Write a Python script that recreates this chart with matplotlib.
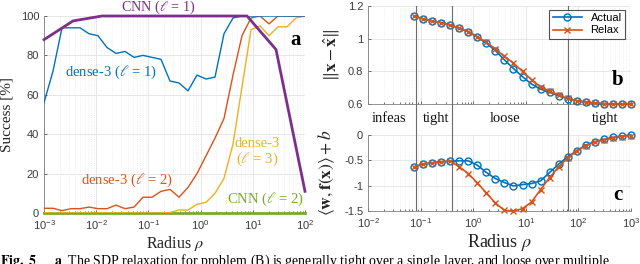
import numpy as np
import matplotlib
matplotlib.use("Agg")
import matplotlib.pyplot as plt
from matplotlib.ticker import LogLocator, NullFormatter

plt.rcParams['font.family'] = ['Liberation Sans', 'DejaVu Sans']
plt.rcParams['axes.unicode_minus'] = False

# ---------------- data: panel a ----------------
rho_fine = np.logspace(-3, 2, 30)      # dense-3 sweeps
rho_coarse = np.logspace(-3, 2, 10)    # CNN sweeps
dense1 = [56, 72, 94, 94, 94, 91, 90, 84, 81, 82, 79, 80, 79, 78, 67,
          66, 62, 70, 68, 69, 91, 99, 100, 100, 100, 100, 100, 100, 100, 100]
dense2 = [2.4, 2.4, 1.2, 2.2, 2.2, 3, 2.2, 2.2, 4, 2.2, 3, 8, 8, 11, 12,
          8, 13, 20, 29, 38, 48, 70, 90, 99, 100, 96, 100, 100, 100, 100]
dense3 = [0, 0, 0, 0, 0, 0, 0, 0, 0, 0, 0, 0, 0, 0, 0.3,
          1.5, 1.5, 4.4, 5.4, 10, 17.6, 35, 64, 93, 95, 90, 94.5, 94.5, 99, 100]
cnn1 = [88, 97.5, 100, 100, 100, 100, 100, 100, 83, 11]
cnn2 = [0, 0, 0, 0, 0, 0, 0, 0, 0, 0]

# ---------------- data: panels b, c ----------------
rho_bc = np.geomspace(0.075, 1000, 25)
dist_actual = [1.139, 1.121, 1.108, 1.098, 1.084, 1.064, 1.043, 1.009, 0.972, 0.927,
               0.870, 0.817, 0.767, 0.722, 0.691, 0.671, 0.651, 0.632, 0.620, 0.612,
               0.606, 0.602, 0.600, 0.600, 0.600]
dist_relax = [1.139, 1.121, 1.108, 1.098, 1.084, 1.064, 1.043, 1.012, 0.977, 0.937,
              0.891, 0.850, 0.800, 0.748, 0.704, 0.678, 0.655, 0.634, 0.621, 0.612,
              0.606, 0.602, 0.600, 0.600, 0.600]
obj_actual = [-0.628, -0.575, -0.549, -0.529, -0.515, -0.509, -0.509, -0.595, -0.740, -0.859,
              -0.938, -1.005, -0.978, -0.958, -0.905, -0.740, -0.575, -0.430, -0.311, -0.198,
              -0.132, -0.086, -0.046, -0.020, 0.0]
obj_relax = [-0.628, -0.575, -0.549, -0.529, -0.515, -0.628, -0.760, -0.945, -1.143, -1.342,
             -1.487, -1.500, -1.454, -1.322, -1.077, -0.839, -0.628, -0.450, -0.320, -0.210,
             -0.140, -0.100, -0.060, -0.030, -0.010]
region_bounds = [0.08, 0.4, 63]
region_names = ["infeas", "tight", "loose", "tight"]
region_pos = [0.025, 0.2, 4.1, 316]

BLUE = '#0072BD'
ORANGE = '#D95319'
YELLOW = '#EDB120'
PURPLE = '#7E2F8E'
GREEN = '#77AC30'
TICKC = '#3a3a3a'
SERIF = ['Liberation Serif', 'DejaVu Serif']

W, H = 640, 264
fig = plt.figure(figsize=(6.4, 2.64), dpi=100)

def box(l, t, r, b):
    return [l / W, (H - b) / H, (r - l) / W, (b - t) / H]

def style(ax):
    ax.set_xscale('log')
    ax.tick_params(which='both', direction='in', colors=TICKC, labelsize=8,
                   labelcolor=TICKC, width=0.5)
    ax.tick_params(which='major', length=2.5)
    ax.tick_params(which='minor', length=1.5)
    ax.xaxis.set_major_locator(LogLocator(base=10, numticks=20))
    ax.xaxis.set_minor_locator(LogLocator(base=10, subs=np.arange(2, 10), numticks=20))
    ax.xaxis.set_minor_formatter(NullFormatter())
    ax.grid(True, which='major', color='#e3e3e3', lw=0.6)
    ax.grid(True, which='minor', axis='x', color='#e6e6e6', lw=0.5, ls=':')
    ax.set_axisbelow(True)
    for s in ['top', 'right']:
        ax.spines[s].set_visible(False)
    for s in ['left', 'bottom']:
        ax.spines[s].set_color('#808080')
        ax.spines[s].set_linewidth(0.6)

# ---------------- panel a ----------------
ax = fig.add_axes(box(44, 16, 305, 213))
style(ax)
ax.plot(rho_coarse, cnn2, color=GREEN, lw=2.0, clip_on=False, zorder=3)
ax.plot(rho_fine, dense3, color=YELLOW, lw=1.0, zorder=4)
ax.plot(rho_fine, dense2, color=ORANGE, lw=1.0, zorder=5)
ax.plot(rho_fine, dense1, color=BLUE, lw=1.0, zorder=6)
ax.plot(rho_coarse, cnn1, color=PURPLE, lw=2.0, clip_on=False, zorder=7)
ax.set_xlim(1e-3, 1e2)
ax.set_ylim(0, 100)
ax.set_yticks([0, 20, 40, 60, 80, 100])
ax.set_xlabel(r'Radius $\rho$', family=SERIF, fontsize=11.5, color='#222222',
              math_fontfamily='stix', labelpad=2)
ax.set_ylabel('Success [%]', family=SERIF, fontsize=11, color='#222222')
ax.yaxis.set_label_coords(-0.115, 0.5)
tkw = dict(family=SERIF, fontsize=10.5, ha='center', va='center', math_fontfamily='stix')
ax.text(0.153, 104.2, r'CNN ($\ell$ = 1)', color=PURPLE, clip_on=False,
        **dict(tkw, fontsize=10.2))
ax.text(0.0192, 71.6, r'dense-3 ($\ell$ = 1)', color=BLUE, **tkw)
ax.text(0.039, 16.8, r'dense-3 ($\ell$ = 2)', color=ORANGE, **tkw)
ax.text(12, 35.5, 'dense-3', color=YELLOW, **tkw)
ax.text(12, 27, r'($\ell$ = 3)', color=YELLOW, **tkw)
ax.text(17.8, 7.1, r'CNN ($\ell$ = 2)', color=GREEN, **tkw)
ax.text(67, 88, 'a', family=SERIF, fontsize=15, fontweight='bold', ha='center', va='center')

# ---------------- panel b ----------------
axb = fig.add_axes(box(368, 6, 631, 104))
style(axb)
axb.plot(rho_bc, dist_actual, color=BLUE, lw=1.2, marker='o', ms=5, mfc='none',
         mew=1.0, label='Actual', clip_on=False, zorder=4)
axb.plot(rho_bc, dist_relax, color=ORANGE, lw=1.2, marker='x', ms=4, mew=1.0,
         label='Relax', clip_on=False, zorder=5)
axb.set_xlim(1e-2, 1e3)
axb.set_ylim(0.6, 1.2)
axb.set_yticks([0.6, 0.8, 1.0, 1.2])
axb.set_yticklabels(['0.6', '0.8', '1', '1.2'])
axb.xaxis.set_major_formatter(NullFormatter())
axb.set_ylabel(r'$\|\mathbf{x}-\hat{\mathbf{x}}\|$', fontsize=12.5, math_fontfamily='stix',
               color='#222222')
axb.yaxis.set_label_coords(-0.10, 0.5)
leg = axb.legend(loc='upper right', bbox_to_anchor=(0.977, 0.96), fontsize=8,
                 frameon=True, fancybox=False, edgecolor='#262626', borderpad=0.3,
                 handlelength=2.6, labelspacing=0.2, borderaxespad=0)
leg.get_frame().set_linewidth(0.8)
axb.text(562, 0.747, 'b', family=SERIF, fontsize=15, fontweight='bold', ha='center', va='center')
for v in region_bounds:
    axb.axvline(v, color='#6b6b6b', lw=0.8, zorder=2)

# ---------------- band ----------------
axm = fig.add_axes(box(368, 104, 631, 135))
axm.set_xscale('log')
axm.set_xlim(1e-2, 1e3)
axm.set_ylim(0, 1)
axm.axis('off')
for v in region_bounds:
    axm.axvline(v, color='#6b6b6b', lw=0.8)
for name, xp in zip(region_names, region_pos):
    axm.text(xp, 0.52, name, family=SERIF, fontsize=10.5, ha='center', va='center',
             color='#111111')

# ---------------- panel c ----------------
axc = fig.add_axes(box(368, 135, 631, 211))
style(axc)
axc.plot(rho_bc, obj_actual, color=BLUE, lw=1.2, marker='o', ms=5, mfc='none',
         mew=1.0, clip_on=False, zorder=4)
axc.plot(rho_bc, obj_relax, color=ORANGE, lw=1.2, marker='x', ms=4, mew=1.0,
         clip_on=False, zorder=5)
axc.set_xlim(1e-2, 1e3)
axc.set_ylim(-1.5, 0)
axc.set_yticks([-1.5, -1.0, -0.5, 0])
axc.set_yticklabels(['-1.5', '-1', '-0.5', '0'])
axc.set_xlabel(r'Radius $\rho$', family=SERIF, fontsize=13, color='#222222',
               math_fontfamily='stix', labelpad=2)
axc.set_ylabel(r'$\langle\mathbf{w},\mathbf{f}(\mathbf{x})\rangle+b$', fontsize=12.5,
               math_fontfamily='stix', color='#222222')
axc.yaxis.set_label_coords(-0.118, 0.5)
for v in region_bounds:
    axc.axvline(v, color='#6b6b6b', lw=0.8, zorder=2)
axc.text(562, -1.18, 'c', family=SERIF, fontsize=15, fontweight='bold', ha='center', va='center')

# ---------------- caption (cut off by the image edge, as in the reference) ----------------
fig.text(0.0, (H - 252.5) / H, r'$\mathbf{Fig.\ 5}$', fontsize=10, va='top', ha='left',
         math_fontfamily='stix')
fig.text(54 / W, (H - 252.5) / H,
         r'$\mathbf{a}$  The SDP relaxation for problem (B) is generally tight over a single layer, and loose over multiple',
         family=SERIF, fontsize=10, va='top', ha='left', math_fontfamily='stix')

fig.savefig('out.png', dpi=100)
